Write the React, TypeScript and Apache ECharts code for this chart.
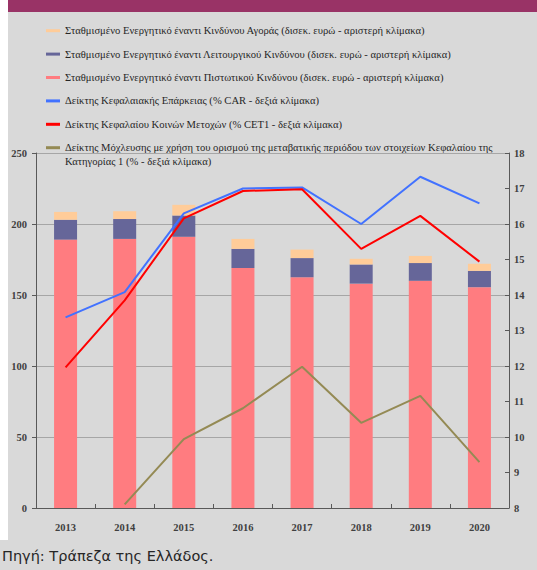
import React, { useEffect, useRef } from "react";
import * as echarts from "echarts";

const years = ["2013", "2014", "2015", "2016", "2017", "2018", "2019", "2020"];
const creditRisk = [189, 189.5, 191, 169, 162.5, 158, 160, 155.5];
const operationalRisk = [14, 14, 15, 13.5, 13.5, 13.5, 12.5, 11.5];
const marketRisk = [5.5, 5.5, 7.5, 7, 6, 4, 5, 5];
const carRatio = [13.37, 14.08, 16.3, 17.0, 17.03, 16.0, 17.33, 16.58];
const cet1Ratio = [11.96, 13.85, 16.16, 16.93, 16.98, 15.3, 16.23, 14.94];
const leverageRatio = [null, 8.1, 9.94, 10.81, 11.98, 10.4, 11.16, 9.29];

const nameMarket = "Σταθμισμένο Ενεργητικό έναντι Κινδύνου Αγοράς (δισεκ. ευρώ - αριστερή κλίμακα)";
const nameOper = "Σταθμισμένο Ενεργητικό έναντι Λειτουργικού Κινδύνου (δισεκ. ευρώ - αριστερή κλίμακα)";
const nameCredit = "Σταθμισμένο Ενεργητικό έναντι Πιστωτικού Κινδύνου (δισεκ. ευρώ - αριστερή κλίμακα)";
const nameCar = "Δείκτης Κεφαλαιακής Επάρκειας (% CAR - δεξιά κλίμακα)";
const nameCet1 = "Δείκτης Κεφαλαίου Κοινών Μετοχών (% CET1 - δεξιά κλίμακα)";
const nameLevLine1 =
  "Δείκτης Μόχλευσης με χρήση του ορισμού της μεταβατικής περιόδου των στοιχείων Κεφαλαίου της";
const nameLevLine2 = "Κατηγορίας 1 (% - δεξιά κλίμακα)";
const nameLev = nameLevLine1 + "\n" + nameLevLine2;
const sourceText = "Πηγή: Τράπεζα της Ελλάδος.";

const SERIF = "Liberation Serif, serif";

export default function App() {
  const ref = useRef<HTMLDivElement>(null);
  useEffect(() => {
    if (!ref.current) return;
    const chart = echarts.init(ref.current, null, { renderer: "svg" });
    const axisLabel = {
      fontFamily: SERIF,
      fontWeight: "bold" as const,
      fontSize: 10.5,
      color: "#404040",
    };
    const legendNames = [nameMarket, nameOper, nameCredit, nameCar, nameCet1, nameLev];
    chart.setOption({
      animation: false,
      backgroundColor: "#d9d9d9",
      graphic: [
        { type: "rect", left: 0, top: 0, shape: { x: 0, y: 0, width: 8, height: 540 }, style: { fill: "#ffffff" }, silent: true },
        { type: "rect", left: 8, top: 0, shape: { x: 0, y: 0, width: 529, height: 12 }, style: { fill: "#993366" }, silent: true },
        {
          type: "text",
          left: 65,
          top: 155,
          style: { text: nameLevLine2, fontFamily: SERIF, fontSize: 10.6, lineHeight: 13.4, fill: "#262626" },
          silent: true,
        },
        {
          type: "text",
          left: 2,
          top: 548,
          style: { text: sourceText, fontFamily: "DejaVu Sans, sans-serif", fontSize: 14.5, fill: "#262626" },
          silent: true,
        },
      ],
      legend: {
        orient: "vertical",
        left: 46,
        top: 24,
        padding: 0,
        itemWidth: 14,
        itemHeight: 3,
        itemGap: 10,
        selectedMode: false,
        formatter: (n: string) => n.split("\n")[0],
        textStyle: { fontFamily: SERIF, fontSize: 10.6, color: "#262626", lineHeight: 13.4 },
        data: legendNames.map((n) => ({ name: n, icon: "rect" })),
      },
      grid: { left: 36, right: 28, top: 153, bottom: 62, containLabel: false },
      xAxis: {
        type: "category",
        data: years,
        axisLine: { lineStyle: { color: "#595959", width: 1 } },
        axisTick: { show: true, inside: true, length: 4, lineStyle: { color: "#595959" } },
        axisLabel: { ...axisLabel, margin: 14 },
      },
      yAxis: [
        {
          type: "value",
          min: 0,
          max: 250,
          interval: 50,
          axisLine: { show: true, lineStyle: { color: "#595959", width: 1 } },
          axisTick: { show: true, length: 4, lineStyle: { color: "#595959" } },
          axisLabel: { ...axisLabel, margin: 9 },
          splitLine: { show: true, lineStyle: { color: "#a6a6a6", width: 1 } },
        },
        {
          type: "value",
          position: "right",
          min: 8,
          max: 18,
          interval: 1,
          axisLine: { show: true, lineStyle: { color: "#595959", width: 1 } },
          axisTick: { show: true, inside: true, length: 4, lineStyle: { color: "#595959" } },
          axisLabel: { ...axisLabel, margin: 5 },
          splitLine: { show: false },
        },
      ],
      series: [
        { name: nameCredit, type: "bar", stack: "rwa", barWidth: 23, data: creditRisk, itemStyle: { color: "#ff7c80" } },
        { name: nameOper, type: "bar", stack: "rwa", barWidth: 23, data: operationalRisk, itemStyle: { color: "#666699" } },
        { name: nameMarket, type: "bar", stack: "rwa", barWidth: 23, data: marketRisk, itemStyle: { color: "#ffcc99" } },
        {
          name: nameCar, type: "line", yAxisIndex: 1, data: carRatio, symbol: "none",
          color: "#4272ff", lineStyle: { color: "#4272ff", width: 2 },
        },
        {
          name: nameCet1, type: "line", yAxisIndex: 1, data: cet1Ratio, symbol: "none",
          color: "#ff0000", lineStyle: { color: "#ff0000", width: 2 },
        },
        {
          name: nameLev, type: "line", yAxisIndex: 1, data: leverageRatio, symbol: "none", connectNulls: false,
          color: "#948a54", lineStyle: { color: "#948a54", width: 2 },
        },
      ],
    });
    return () => chart.dispose();
  }, []);
  return <div ref={ref} style={{ position: "absolute", left: 0, top: 0, width: 537, height: 570 }} />;
}
